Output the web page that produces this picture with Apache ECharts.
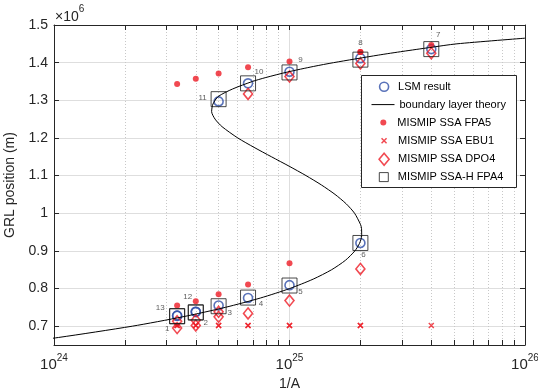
<!DOCTYPE html>
<html><head><meta charset="utf-8">
<script src="https://cdn.jsdelivr.net/npm/echarts@6/dist/echarts.min.js"></script>
<style>html,body{margin:0;padding:0;background:#fff}#c{width:538px;height:389px}</style>
</head><body><div id="c"></div>
<script>
// ---- data ----
const invA_adv = [3.333e24, 4e24, 5e24, 6.667e24, 1e25, 2e25, 4e25];
const invA_ret = [2e25, 1e25, 6.667e24, 5e24, 4e24, 3.333e24];
const lsm_adv  = [0.728, 0.738, 0.755, 0.775, 0.809, 0.921, 1.436];
const lsm_ret  = [1.412, 1.376, 1.345, 1.297, 0.738, 0.728];
const fpa5_adv = [0.755, 0.766, 0.785, 0.811, 0.867, 1.428, 1.447];
const fpa5_ret = [1.428, 1.403, 1.388, 1.371, 1.357, 1.343];
const ebu1_adv = [0.702, 0.702, 0.702, 0.702, 0.702, 0.702, 0.702];
const ebu1_ret = [0.702, 0.702, 0.702, 0.702, 0.702, 0.702];
const dpo4_adv = [0.695, 0.702, 0.725, 0.734, 0.768, 0.852, 1.425];
const dpo4_ret = [1.398, 1.363, 1.317, 0.738, 0.716, 0.713];
const fpa4_adv = [0.726, 0.736, 0.753, 0.776, 0.808, 0.921, 1.436];
const fpa4_ret = [1.408, 1.374, 1.345, 1.303, 0.737, 0.727];
const expLabels = ['1','2','3','4','5','6','7','8','9','10','11','12','13'];
const theoryGL = [0.65,0.67,0.70,0.725,0.75,0.775,0.80,0.825,0.85,0.875,
  0.90,0.92,0.94,0.96,0.97,1.00,1.025,1.05,1.075,1.10,
  1.125,1.15,1.175,1.20,1.23,1.25,1.27,1.29,1.31,1.33,
  1.35,1.36,1.375,1.39,1.40,1.42,1.43,1.44,1.45,1.465];
const theoryInvA = [5.87e23,1.045e24,2.151e24,3.528e24,5.341e24,7.543e24,1.002e25,1.261e25,1.510e25,1.728e25,
  1.895e25,1.983e25,2.025e25,2.022e25,2.003e25,1.889e25,1.741e25,1.561e25,1.367e25,1.175e25,
  9.96e24,8.38e24,7.07e24,6.03e24,5.17e24,4.83e24,4.67e24,4.73e24,4.98e24,5.73e24,
  6.96e24,7.88e24,9.79e24,1.267e25,1.539e25,2.382e25,3.034e25,3.925e25,5.14e25,1e26];
const yTickLabels = ['0.7','0.8','0.9','1','1.1','1.2','1.3','1.4','1.5'];
const xMinorTicks = [2e24,3e24,4e24,5e24,6e24,7e24,8e24,9e24,2e25,3e25,4e25,5e25,6e25,7e25,8e25,9e25];

// ---- styling ----
const FONT = 'Liberation Sans, Arial, Helvetica, sans-serif';
const AX = '#262626';
const BLUE = '#2f4fa8';
const RED = '#ee1c25';
const XPATH = 'path://M0,0L10,10M0,10L10,0';
const pairs = (xs, ys) => xs.map((x, i) => [x, ys[i]]);

const labelOffsets = [[-10,12],[10,10],[11,7],[13,6],[11,6],[3,12],[7,-14],
                      [0,-17],[11,-13],[11,-12],[-16,-1],[-8,-15],[-17,-8]];
const labelPts = pairs(invA_adv, fpa4_adv).concat(pairs(invA_ret, fpa4_ret));

const Y0 = 0.65, Y1 = 1.5, tickLenY = 0.0133;
const markData = [];
xMinorTicks.forEach(v => {
  markData.push({xAxis: v, lineStyle: {color: '#c8c8c8', type: [1, 2], width: 1}});
  markData.push([{coord: [v, Y0], lineStyle: {color: AX, type: 'solid', width: 1}}, {coord: [v, Y0 + tickLenY]}]);
  markData.push([{coord: [v, Y1], lineStyle: {color: AX, type: 'solid', width: 1}}, {coord: [v, Y1 - tickLenY]}]);
});

const legendDefs = [
  {name: 'LSM result', w: 9, h: 9, style: {color: 'transparent', borderColor: BLUE, borderWidth: 1.6}},
  {name: 'boundary layer theory', w: 23, h: 12, line: true,
   style: {color: 'transparent', borderColor: 'transparent', borderWidth: 0}},
  {name: 'MISMIP SSA FPA5', w: 6, h: 6, style: {color: RED, borderWidth: 0}},
  {name: 'MISMIP SSA EBU1', w: 5, h: 5, style: {color: RED, borderColor: RED, borderWidth: 1.5}},
  {name: 'MISMIP SSA DPO4', w: 10, h: 12, style: {color: 'transparent', borderColor: RED, borderWidth: 1.6}},
  {name: 'MISMIP SSA-H FPA4', w: 9, h: 9, style: {color: 'transparent', borderColor: '#1a1a1a', borderWidth: 1}}
];
const legendCy = [86.7, 104.6, 122.6, 140.7, 158.9, 177.1];
const TXT_H = 13;
const legends = legendDefs.map((d, i) => {
  const left = d.line ? 371 : 383.3 - d.w / 2;
  const pad = Math.max(0, 397.3 - (left + d.w + 5));
  const lg = {
    data: [d.name], orient: 'vertical', padding: 0, itemGap: 0, selectedMode: false, z: 110,
    left: left, top: legendCy[i] - Math.max(d.h, TXT_H) / 2,
    itemWidth: d.w, itemHeight: d.h,
    textStyle: {fontSize: 11, fontFamily: FONT, color: '#000', lineHeight: TXT_H, padding: [0, 0, 0, pad]}
  };
  if (d.style) lg.itemStyle = d.style;
  if (d.line) lg.lineStyle = {color: '#000', width: 1};
  return lg;
});

const chart = echarts.init(document.getElementById('c'), null, {renderer: 'canvas'});
chart.setOption({
  animation: false,
  backgroundColor: '#fff',
  grid: {left: 54, right: 13, top: 25, bottom: 44, containLabel: false, outerBoundsMode: 'none'},
  legend: legends,
  xAxis: [{
    type: 'log', logBase: 10, min: 1e24, max: 1e26, position: 'bottom',
    axisLine: {show: true, lineStyle: {color: AX, width: 1}},
    axisTick: {show: true, inside: true, length: 5, lineStyle: {color: AX}},
    minorTick: {show: false}, minorSplitLine: {show: false},
    splitLine: {show: true, lineStyle: {color: '#dedede', width: 1}},
    axisLabel: {
      margin: 8, color: AX,
      formatter: v => '{b|10}{s|' + Math.round(Math.log10(v)) + '}',
      rich: {
        b: {fontSize: 15, fontFamily: FONT, color: AX, verticalAlign: 'bottom', lineHeight: 19},
        s: {fontSize: 10, fontFamily: FONT, color: AX, verticalAlign: 'top', lineHeight: 12}
      }
    },
    name: '1/A', nameLocation: 'middle', nameGap: 30,
    nameTextStyle: {fontSize: 14, fontFamily: FONT, color: AX}
  }, {
    type: 'log', logBase: 10, min: 1e24, max: 1e26, position: 'top',
    axisLine: {show: true, lineStyle: {color: AX, width: 1}},
    axisTick: {show: true, inside: true, length: 5, lineStyle: {color: AX}},
    axisLabel: {show: false}, splitLine: {show: false}
  }],
  yAxis: [{
    type: 'value', min: Y0, max: Y1, splitNumber: 8, position: 'left',
    axisLine: {show: true, lineStyle: {color: AX, width: 1}},
    axisTick: {show: true, inside: true, length: 5, lineStyle: {color: AX}},
    splitLine: {show: true, lineStyle: {color: '#dedede', width: 1}},
    axisLabel: {
      margin: 6, fontSize: 14, fontFamily: FONT, color: AX, showMinLabel: false,
      formatter: v => { const k = Math.round(v * 10) - 7; return (Math.abs(v * 10 - Math.round(v * 10)) < 1e-6 && k >= 0) ? yTickLabels[k] : ''; }
    },
    name: 'GRL position (m)', nameLocation: 'middle', nameGap: 29,
    nameTextStyle: {fontSize: 14, fontFamily: FONT, color: AX}
  }, {
    type: 'value', min: Y0, max: Y1, splitNumber: 8, position: 'right',
    axisLine: {show: true, lineStyle: {color: AX, width: 1}},
    axisTick: {show: true, inside: true, length: 5, lineStyle: {color: AX}},
    axisLabel: {show: false}, splitLine: {show: false}
  }],
  graphic: [
    {type: 'rect', z: 100, shape: {x: 361.5, y: 75.5, width: 155, height: 112},
     style: {fill: '#fff', stroke: AX, lineWidth: 1}},
    {type: 'text', z: 100, x: 55, y: 4,
     style: {text: '{a|×10}{s|6}', rich: {
       a: {fontSize: 14, fontFamily: FONT, fill: AX, verticalAlign: 'bottom', lineHeight: 20},
       s: {fontSize: 10, fontFamily: FONT, fill: AX, verticalAlign: 'top', lineHeight: 12}}}}
  ],
  series: [
    {name: 'LSM result', type: 'scatter', symbol: 'circle', symbolSize: 9,
     itemStyle: {color: 'transparent', borderColor: BLUE, borderWidth: 1.6},
     data: pairs(invA_adv, lsm_adv).concat(pairs(invA_ret, lsm_ret))},
    {name: 'boundary layer theory', type: 'line', symbol: 'none', smooth: 0.25, clip: true,
     lineStyle: {color: '#000', width: 1}, itemStyle: {color: '#000'},
     data: pairs(theoryInvA, theoryGL),
     markLine: {silent: true, z: 1, symbol: ['none', 'none'], label: {show: false}, animation: false,
       emphasis: {disabled: true}, data: markData}},
    {name: 'MISMIP SSA FPA5', type: 'scatter', symbol: 'circle', symbolSize: 6,
     itemStyle: {color: RED},
     data: pairs(invA_adv, fpa5_adv).concat(pairs(invA_ret, fpa5_ret))},
    {name: 'MISMIP SSA EBU1', type: 'scatter', symbol: XPATH, symbolSize: 5,
     itemStyle: {color: RED, borderColor: RED, borderWidth: 1.5},
     data: pairs(invA_adv, ebu1_adv).concat(pairs(invA_ret, ebu1_ret))},
    {name: 'MISMIP SSA DPO4', type: 'scatter', symbol: 'diamond', symbolSize: [9, 11],
     itemStyle: {color: 'transparent', borderColor: RED, borderWidth: 1.6},
     data: pairs(invA_adv, dpo4_adv).concat(pairs(invA_ret, dpo4_ret))},
    {name: 'MISMIP SSA-H FPA4', type: 'scatter', symbol: 'rect', symbolSize: 15,
     itemStyle: {color: 'transparent', borderColor: '#1a1a1a', borderWidth: 1},
     data: pairs(invA_adv, fpa4_adv).concat(pairs(invA_ret, fpa4_ret))},
    {name: 'labels', type: 'scatter', symbol: 'circle', symbolSize: 1, silent: true,
     itemStyle: {color: 'transparent'},
     data: labelPts.map((p, i) => ({value: p, label: {offset: labelOffsets[i]}})),
     label: {show: true, position: 'inside', fontSize: 8, fontFamily: FONT, color: '#333',
       formatter: p => expLabels[p.dataIndex]}}
  ]
});
</script></body></html>
